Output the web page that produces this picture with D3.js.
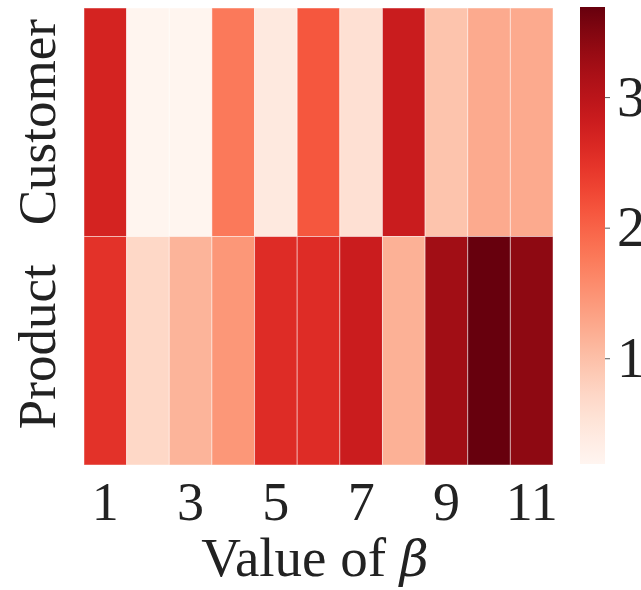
<!DOCTYPE html>
<html>
<head>
<meta charset="utf-8">
<script src="https://cdn.jsdelivr.net/npm/d3@7"></script>
<style>
  body { margin: 0; background: #fff; }
  text { font-family: "Liberation Serif", "Times New Roman", serif; fill: #222; }
</style>
</head>
<body>
<svg id="chart" width="641" height="590"></svg>
<script>
// beta values on the x axis, and the two rows
var betas = [1, 2, 3, 4, 5, 6, 7, 8, 9, 10, 11];
var rows = ["Customer", "Product"];
var customer = [2.70, 0.20, 0.20, 1.77, 0.43, 2.12, 0.58, 2.83, 0.96, 1.24, 1.24];
var product = [2.50, 0.71, 1.13, 1.45, 2.57, 2.57, 2.82, 1.17, 3.25, 3.69, 3.41];
var xTicks = [1, 3, 5, 7, 9, 11];
var cbTicks = [1, 2, 3];
var vmin = 0.19, vmax = 3.69;

var svg = d3.select("#chart");

var x = d3.scaleBand().domain(betas).range([84, 553]);
var y = d3.scaleBand().domain(rows).range([8, 465]);
var color = d3.scaleSequential(d3.interpolateReds).domain([vmin, vmax]);

var cells = [];
rows.forEach(function(r, i) {
  var vals = i === 0 ? customer : product;
  betas.forEach(function(b, j) {
    cells.push({row: r, beta: b, value: vals[j]});
  });
});

svg.append("g").selectAll("rect")
  .data(cells)
  .join("rect")
  .attr("x", function(d) { return x(d.beta); })
  .attr("y", function(d) { return y(d.row); })
  .attr("width", x.bandwidth())
  .attr("height", y.bandwidth())
  .attr("fill", function(d) { return color(d.value); })
  .attr("stroke", "rgba(255,255,255,0.45)")
  .attr("stroke-width", 1);

// x axis, no tick lines
var xAxis = svg.append("g")
  .attr("transform", "translate(0,465)")
  .call(d3.axisBottom(x).tickValues(xTicks).tickSize(0).tickPadding(17));
xAxis.select(".domain").remove();
xAxis.selectAll("text")
  .attr("font-size", 54)
  .attr("font-family", "Liberation Serif")
  .attr("fill", "#222")
  .attr("dy", "0.71em");

// y axis, rotated labels
var yAxis = svg.append("g")
  .attr("transform", "translate(84,0)")
  .call(d3.axisLeft(y).tickSize(0).tickPadding(0));
yAxis.select(".domain").remove();
yAxis.selectAll("text")
  .attr("font-size", 53)
  .attr("font-family", "Liberation Serif")
  .attr("fill", "#222")
  .attr("text-anchor", "middle")
  .attr("x", 0)
  .attr("dy", 0)
  .attr("transform", function(d, i) { return "translate(-29," + (i === 1 ? -4 : 0) + ") rotate(-90)"; });

svg.append("text")
  .attr("x", 315)
  .attr("y", 576)
  .attr("text-anchor", "middle")
  .attr("font-size", 55)
  .text("Value of ")
  .append("tspan")
  .attr("font-style", "italic")
  .attr("font-family", "DejaVu Serif")
  .attr("font-size", 50)
  .text("\u03B2");

// colourbar
var cb = d3.scaleLinear().domain([vmin, vmax]).range([464, 7]);
var grad = svg.append("defs").append("linearGradient")
  .attr("id", "cbgrad")
  .attr("x1", 0).attr("y1", 1).attr("x2", 0).attr("y2", 0);
grad.selectAll("stop")
  .data(d3.range(0, 1.0001, 0.05))
  .join("stop")
  .attr("offset", function(t) { return t; })
  .attr("stop-color", function(t) { return d3.interpolateReds(t); });

svg.append("rect")
  .attr("x", 580)
  .attr("y", cb(vmax))
  .attr("width", 25)
  .attr("height", cb(vmin) - cb(vmax))
  .attr("fill", "url(#cbgrad)");

var cbAxis = svg.append("g")
  .attr("transform", "translate(605,0)")
  .call(d3.axisRight(cb).tickValues(cbTicks).tickSize(5).tickPadding(7).tickFormat(d3.format("d")));
cbAxis.select(".domain").remove();
cbAxis.selectAll("line").attr("stroke", "#555");
cbAxis.selectAll("text")
  .attr("font-size", 56)
  .attr("font-family", "Liberation Serif")
  .attr("fill", "#222");
</script>
</body>
</html>
